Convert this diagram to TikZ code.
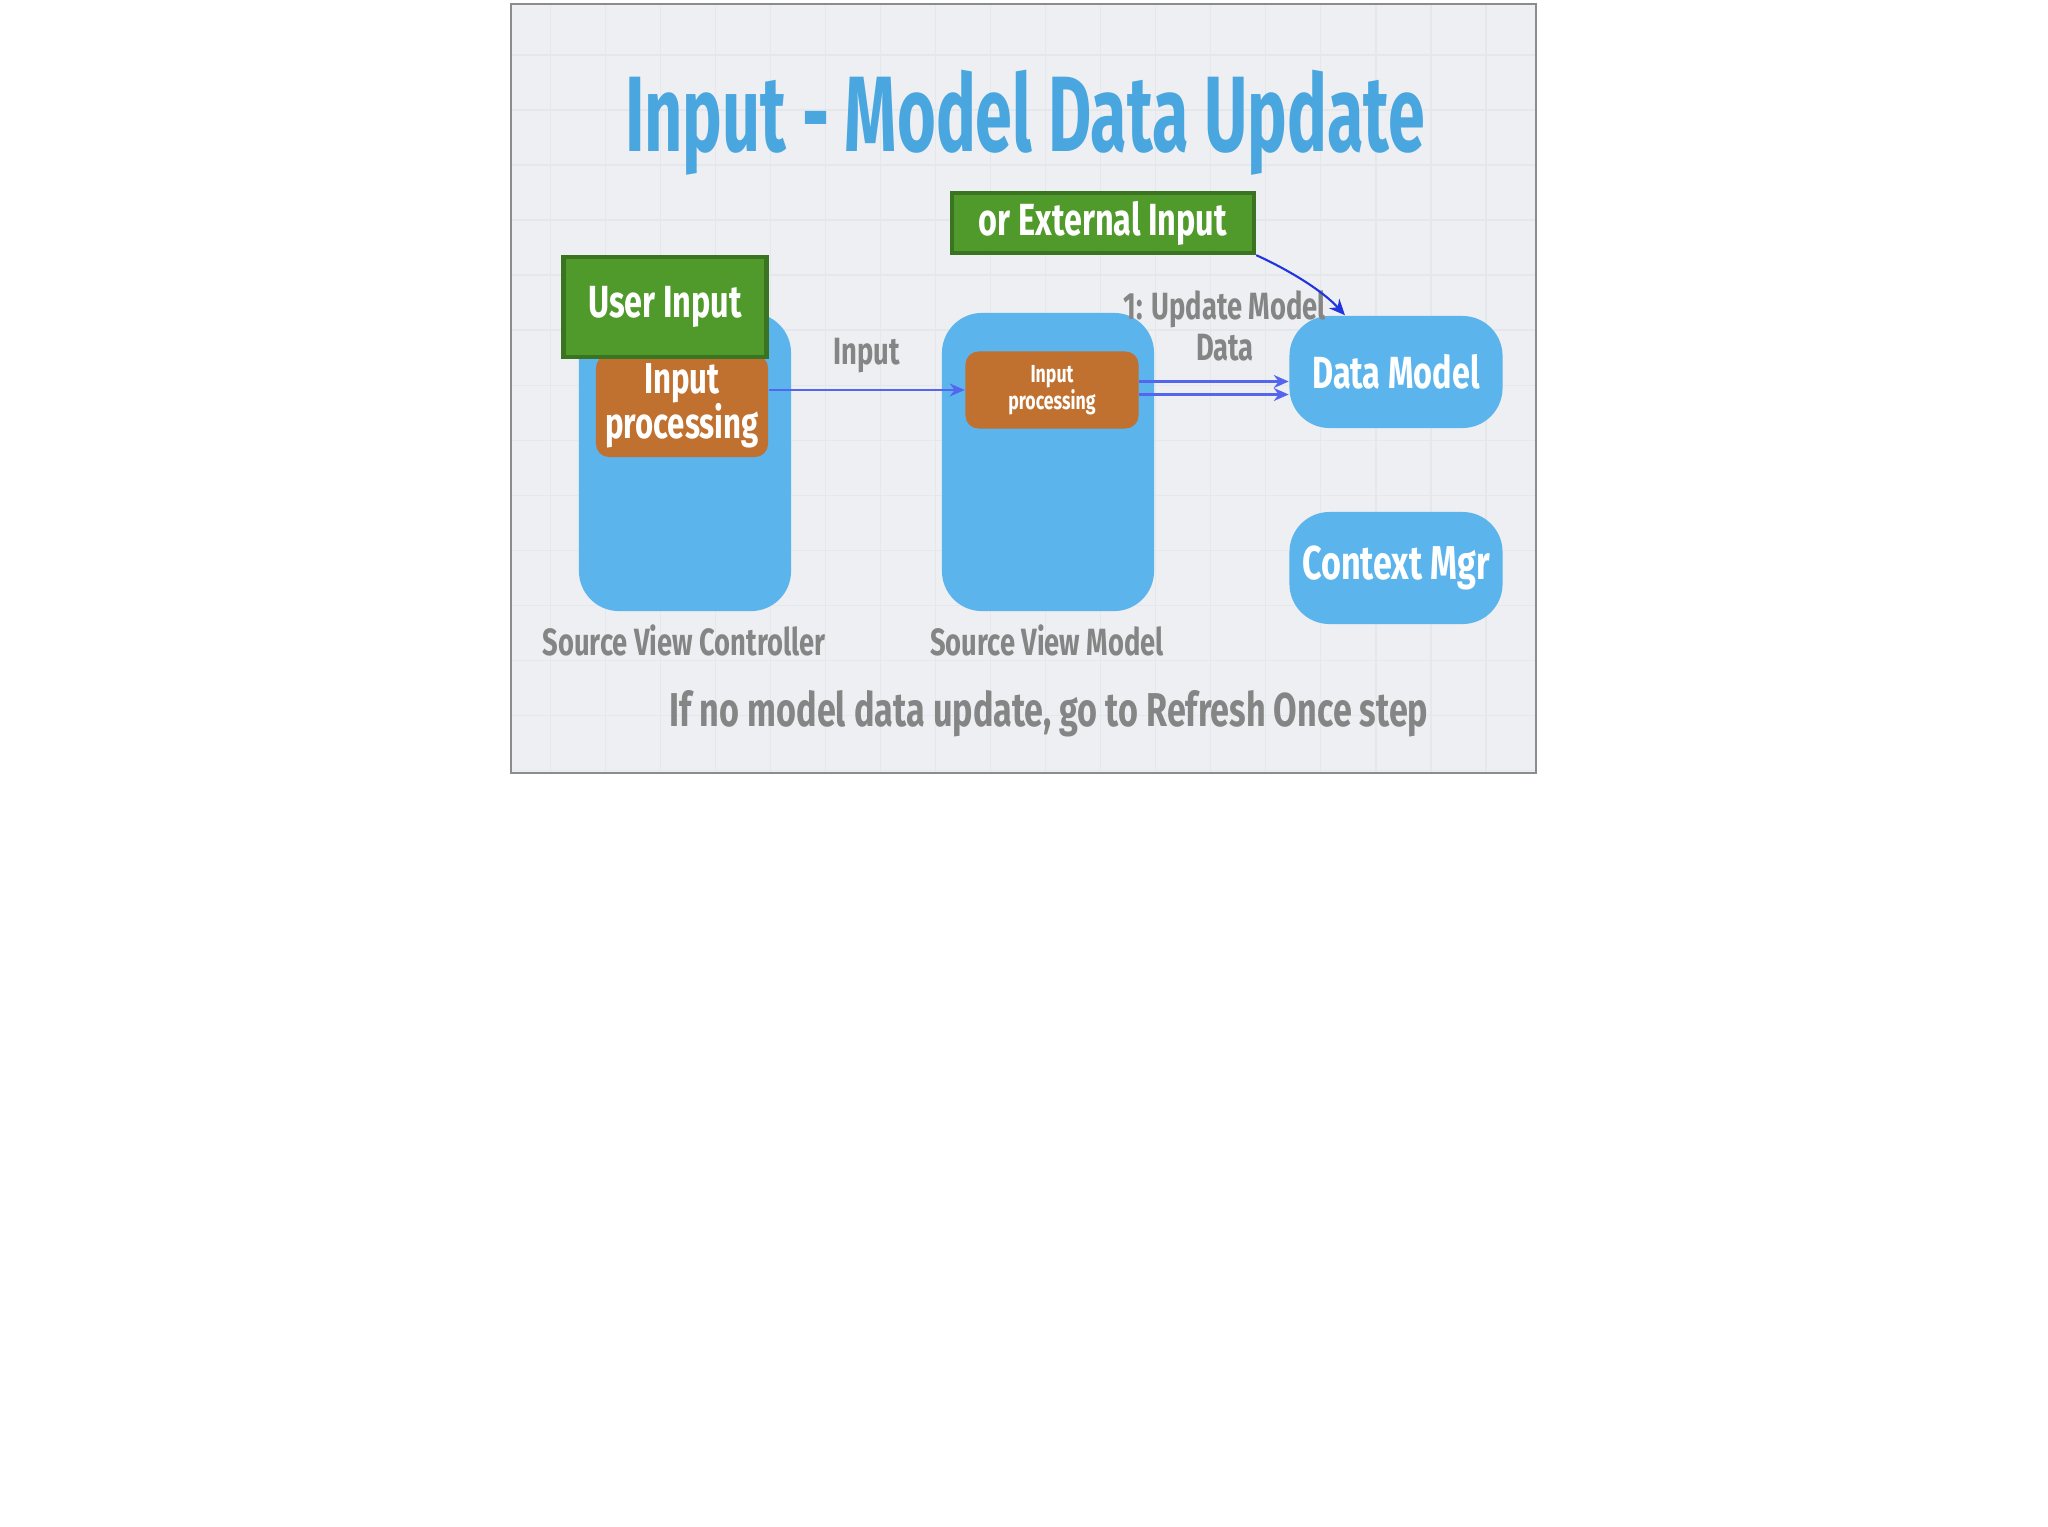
\documentclass[tikz,border=0pt]{standalone}
\usepackage{fontspec}
\usepackage{tikz}
\usetikzlibrary{positioning, arrows.meta}
\newfontfamily\chalk[FakeStretch=0.62]{Fira Sans}
\newfontfamily\chalkw[FakeStretch=0.72]{Fira Sans}
\definecolor{slidebg}{HTML}{EDEFF2}
\definecolor{slideedge}{HTML}{8C8C8C}
\definecolor{gridc}{HTML}{E5E8EB}
\definecolor{boxblue}{HTML}{5BB5EC}
\definecolor{titleblue}{HTML}{4AA6DF}
\definecolor{procorange}{HTML}{C0702F}
\definecolor{inputgreen}{HTML}{4F9A2B}
\definecolor{inputedge}{HTML}{3B7420}
\definecolor{lblgray}{HTML}{858585}
\definecolor{flowblue}{HTML}{5566EE}
\definecolor{extblue}{HTML}{1F35E0}

\begin{document}
\begin{tikzpicture}[x=0.01cm, y=-0.01cm,
  tallbox/.style={fill=boxblue, rounded corners=0.4cm, minimum width=2.12cm, minimum height=2.98cm, inner sep=0pt},
  mgrbox/.style={fill=boxblue, rounded corners=0.4cm, minimum width=2.13cm, minimum height=1.12cm, inner sep=0pt,
    text=white, font=\chalkw\bfseries\fontsize{12.8}{14}\selectfont},
  procbox/.style={fill=procorange, rounded corners=0.13cm, inner sep=0pt, align=center, text=white},
  inbox/.style={fill=inputgreen, draw=inputedge, line width=1.2pt, inner sep=0pt, text=white,
    font=\chalkw\bfseries\fontsize{12.8}{14}\selectfont},
  graylbl/.style={text=lblgray, inner sep=1pt, font=\chalkw\bfseries\fontsize{10.8}{11.5}\selectfont},
  flow/.style={-{Stealth[length=1.5mm, width=1.3mm]}, flowblue, line width=0.6pt},
  extflow/.style={-{Stealth[length=1.6mm, width=1.4mm]}, extblue, line width=0.6pt}]
\useasboundingbox (0,0) rectangle (2048,1527);
\fill[white] (0,0) rectangle (2048,1527);

% Slide background
\fill[slidebg] (511,4) rectangle (1536,773);
\draw[gridc, line width=0.4pt, step=0.55cm] (511,4) grid (1536,773);
\draw[slideedge, line width=0.6pt] (511,4) rectangle (1536,773);

% Title
\node[text=titleblue, font=\chalk\bfseries\fontsize{30.5}{31}\selectfont] (title) at (1025,123) {Input - Model Data Update};

% Source view controller and source view model
\node[tallbox] (svc) at (685,462) {};
\node[tallbox] (svm) at (1048,462) {};
\node[graylbl] (svcLbl) at (684,640) {Source View Controller};
\node[graylbl] (svmLbl) at (1047,640) {Source View Model};

% Input processing boxes
\node[procbox, minimum width=1.72cm, minimum height=1.02cm,
  font=\chalkw\bfseries\fontsize{12.3}{12.8}\selectfont] (ipL) at (682,406) {Input\\processing};
\node[procbox, minimum width=1.73cm, minimum height=0.77cm,
  font=\chalkw\bfseries\fontsize{7}{7.6}\selectfont] (ipM) at (1052,390) {Input\\processing};

% Inputs
\node[inbox, minimum width=2.03cm, minimum height=1.0cm] (ui) at (665,307) {User Input};
\node[inbox, minimum width=3.02cm, minimum height=0.6cm] (ext) at (1103,223) {or External Input};

% Managers
\node[mgrbox] (dm) at (1396,372) {Data Model};
\node[mgrbox, font=\chalkw\bfseries\fontsize{13.5}{14}\selectfont] (cm) at (1396,568) {Context Mgr};

% Flows
\draw[flow] (ipL.east |- ipM) -- node[graylbl, above=0.12cm] (inLbl) {Input} (ipM.west);
\draw[flow] ([yshift=0.085cm]ipM.east) -- ([yshift=0.085cm]ipM.east -| dm.west);
\draw[flow] ([yshift=-0.045cm]ipM.east) -- ([yshift=-0.045cm]ipM.east -| dm.west);
\node[graylbl, align=center] (updLbl) at (1225,326) {1: Update Model\\Data};
\draw[extflow] (ext.south east) .. controls +(35,16) and +(-22,-24) .. ([xshift=-0.51cm]dm.north);

% Note
\node[graylbl, font=\chalkw\bfseries\fontsize{13.5}{14}\selectfont] (note) at (1049,714) {If no model data update, go to Refresh Once step};
\end{tikzpicture}
\end{document}
